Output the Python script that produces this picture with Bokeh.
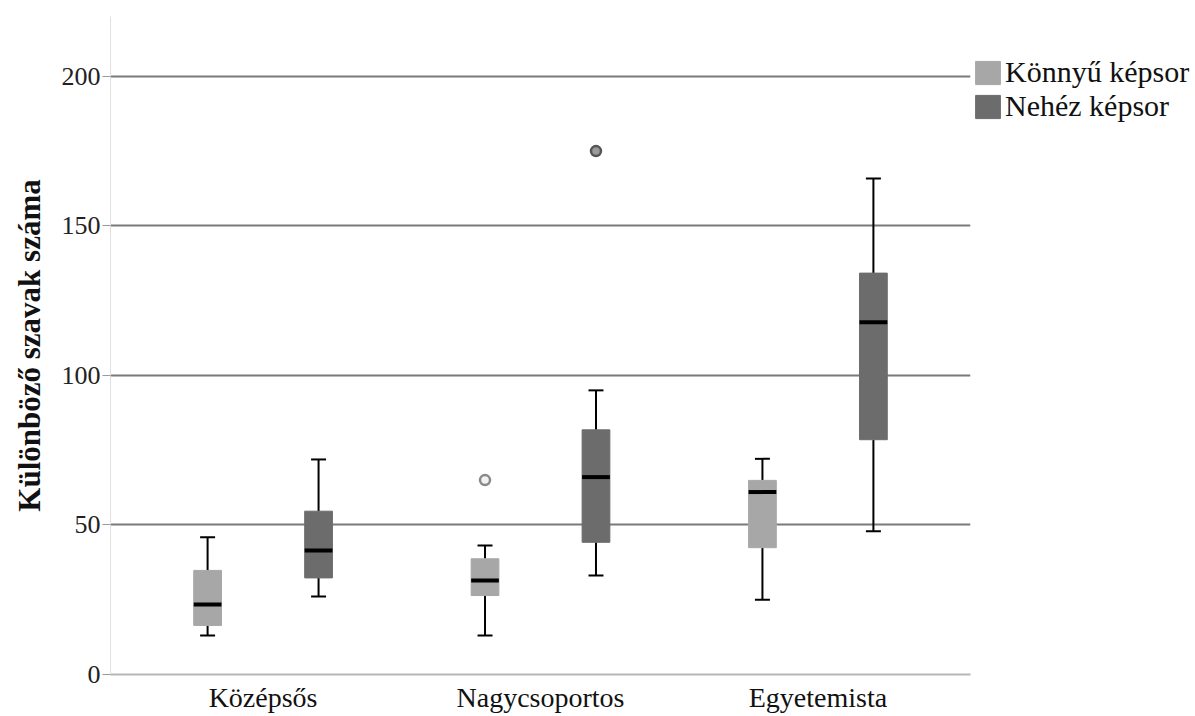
from bokeh.plotting import figure
from bokeh.models import (ColumnDataSource, Legend, LegendItem, FixedTicker, Range1d)
from bokeh.transform import dodge
from bokeh.embed import file_html
from bokeh.resources import INLINE

categories = ["Középsős", "Nagycsoportos", "Egyetemista"]
series = ["Könnyű képsor", "Nehéz képsor"]

easy_low = [13.0, 13.0, 25.0]
easy_q1 = [16.4, 26.4, 42.4]
easy_med = [23.4, 31.4, 61.0]
easy_q3 = [34.8, 38.7, 64.9]
easy_high = [45.9, 43.1, 72.1]
easy_out_cat = [1]
easy_out_val = [65.0]

hard_low = [26.1, 33.1, 47.9]
hard_q1 = [32.3, 44.2, 78.5]
hard_med = [41.5, 66.0, 117.8]
hard_q3 = [54.6, 81.8, 134.2]
hard_high = [71.9, 95.0, 165.8]
hard_out_cat = [1]
hard_out_val = [175.0]

y_ticks = [0, 50, 100, 150, 200]
grid_ticks = [50, 100, 150, 200]

FONT = "Liberation Serif"
EASY = "#a7a7a7"
HARD = "#6c6c6c"

p = figure(frame_width=860, frame_height=658,
           x_range=Range1d(-0.55, 2.55), y_range=Range1d(0, 220),
           output_backend="svg", toolbar_location=None,
           min_border_left=110, min_border_top=16, min_border_right=200,
           min_border_bottom=0)
p.outline_line_color = None
p.background_fill_color = "white"

BOX_W = 0.1
CAP = 0.027


def draw(low, q1, med, q3, high, out_cat, out_val, off, color, out_fill, out_line):
    src = ColumnDataSource(dict(x=list(range(len(categories))), low=low, q1=q1,
                                med=med, q3=q3, high=high))
    xc = dodge("x", off)
    p.segment(x0=xc, x1=xc, y0="q3", y1="high", source=src, line_color="black", line_width=2)
    p.segment(x0=xc, x1=xc, y0="low", y1="q1", source=src, line_color="black", line_width=2)
    p.segment(x0=dodge("x", off - CAP), x1=dodge("x", off + CAP), y0="high", y1="high",
              source=src, line_color="black", line_width=2)
    p.segment(x0=dodge("x", off - CAP), x1=dodge("x", off + CAP), y0="low", y1="low",
              source=src, line_color="black", line_width=2)
    r = p.vbar(x=xc, width=BOX_W, top="q3", bottom="q1", source=src,
               fill_color=color, line_color=color, line_width=1)
    p.segment(x0=dodge("x", off - BOX_W / 2), x1=dodge("x", off + BOX_W / 2), y0="med", y1="med",
              source=src, line_color="black", line_width=4)
    osrc = ColumnDataSource(dict(x=out_cat, y=out_val))
    p.scatter(x=dodge("x", off), y="y", source=osrc, size=10, marker="circle",
              fill_color=out_fill, line_color=out_line, line_width=2.5)
    return r


r_easy = draw(easy_low, easy_q1, easy_med, easy_q3, easy_high, easy_out_cat, easy_out_val,
              -0.2, EASY, "#f2f2f2", "#8a8a8a")
r_hard = draw(hard_low, hard_q1, hard_med, hard_q3, hard_high, hard_out_cat, hard_out_val,
              0.2, HARD, "#9a9a9a", "#555555")

# grid
p.xgrid.visible = False
p.ygrid.ticker = FixedTicker(ticks=grid_ticks)
p.ygrid.grid_line_color = "#7a7a7a"
p.ygrid.grid_line_width = 2

# y axis
p.yaxis.ticker = FixedTicker(ticks=y_ticks)
p.yaxis.axis_label = "Különböző szavak száma"
p.yaxis.axis_label_text_font = FONT
p.yaxis.axis_label_text_font_size = "31px"
p.yaxis.axis_label_text_font_style = "bold"
p.yaxis.axis_label_text_color = "#111111"
p.yaxis.axis_label_standoff = 12
p.yaxis.major_label_text_font = FONT
p.yaxis.major_label_text_font_size = "26px"
p.yaxis.major_label_text_color = "#222222"
p.yaxis.major_label_standoff = 2
p.yaxis.axis_line_color = "#e0e0e0"
p.yaxis.major_tick_line_color = "#9a9a9a"
p.yaxis.major_tick_out = 8
p.yaxis.major_tick_in = 0
p.yaxis.minor_tick_line_color = None

# x axis
p.xaxis.ticker = FixedTicker(ticks=list(range(len(categories))))
p.xaxis.major_label_overrides = {i: c for i, c in enumerate(categories)}
p.xaxis.major_label_text_font = FONT
p.xaxis.major_label_text_font_size = "28px"
p.xaxis.major_label_text_color = "#111111"
p.xaxis.major_label_standoff = 1
p.xaxis.axis_line_color = "#b5b5b5"
p.xaxis.axis_line_width = 2
p.xaxis.major_tick_line_color = None
p.xaxis.minor_tick_line_color = None

legend = Legend(items=[LegendItem(label=series[0], renderers=[r_easy]),
                       LegendItem(label=series[1], renderers=[r_hard])],
                location=(2, 551), glyph_width=31, glyph_height=29,
                label_text_font=FONT, label_text_font_size="30px",
                label_text_color="#111111", label_standoff=2,
                padding=0, margin=0, spacing=0,
                border_line_color=None, background_fill_alpha=0)
p.add_layout(legend, "right")

open("out.html", "w").write(file_html(p, INLINE))
